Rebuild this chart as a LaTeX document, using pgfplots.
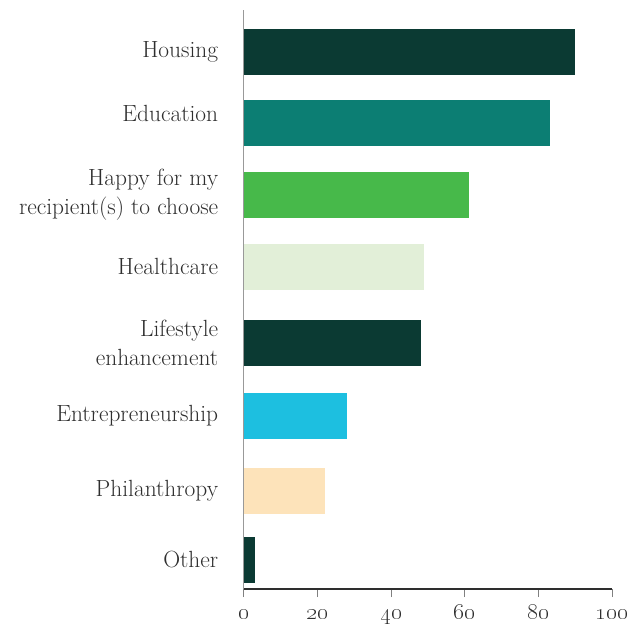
\documentclass[border=0pt]{standalone}
\usepackage{pgfplots}
\pgfplotsset{compat=1.18}
\definecolor{dkgreen}{HTML}{0B3A33}
\definecolor{teal1}{HTML}{0C7E73}
\definecolor{green1}{HTML}{47B94A}
\definecolor{pale}{HTML}{E2EFD8}
\definecolor{cyan1}{HTML}{1DBFE0}
\definecolor{peach}{HTML}{FDE3BA}
\definecolor{txt}{HTML}{2E2E2E}
\newcommand{\osn}[1]{\scalebox{1.15}{\oldstylenums{#1}}}
\begin{document}
\begin{tikzpicture}
\begin{axis}[
  at={(0,0)}, anchor=south west,
  scale only axis,
  width=368.6bp, height=579bp,
  xmin=0, xmax=100, ymin=0, ymax=579,
  xbar, bar width=45.7bp, bar shift=0bp,
  axis x line=bottom, axis y line=left,
  x axis line style={-, draw=txt, line width=1.2bp},
  y axis line style={-, draw=gray!80, line width=1.4bp},
  xtick={0,20,40,60,80,100},
  xticklabels={\osn{0},\osn{20},\osn{40},\osn{60},\osn{80},\osn{100}},
  xtick align=outside,
  x tick style={draw=gray, line width=1bp},
  major tick length=8bp,
  ytick={29.2,98.2,173.2,246.2,322.2,394.2,537.2},
  yticklabels={Other,Philanthropy,Entrepreneurship,{Lifestyle\\enhancement},Healthcare,{Happy for my\\recipient(s) to choose},Housing},
  extra y ticks={466.2},
  extra y tick labels={Education},
  extra y tick style={yticklabel style={yshift=9bp}},
  y tick style={draw=none},
  yticklabel style={align=right, text=txt, font=\fontsize{23.5}{28.5}\selectfont, xshift=-18bp},
  xticklabel style={text=txt, font=\fontsize{20.74}{24}\selectfont, anchor=base, yshift=-22bp},
  every axis plot/.append style={draw=none},
]
\addplot[fill=dkgreen] coordinates {(90,537.2)};
\addplot[fill=teal1] coordinates {(83,466.2)};
\addplot[fill=green1] coordinates {(61,394.2)};
\addplot[fill=pale] coordinates {(49,322.2)};
\addplot[fill=dkgreen] coordinates {(48,246.2)};
\addplot[fill=cyan1] coordinates {(28,173.2)};
\addplot[fill=peach] coordinates {(22,98.2)};
\addplot[fill=dkgreen] coordinates {(3,29.2)};
\end{axis}
\pgfresetboundingbox
\path (-243.7bp,-36bp) rectangle (390.3bp,589bp);
\end{tikzpicture}
\end{document}
